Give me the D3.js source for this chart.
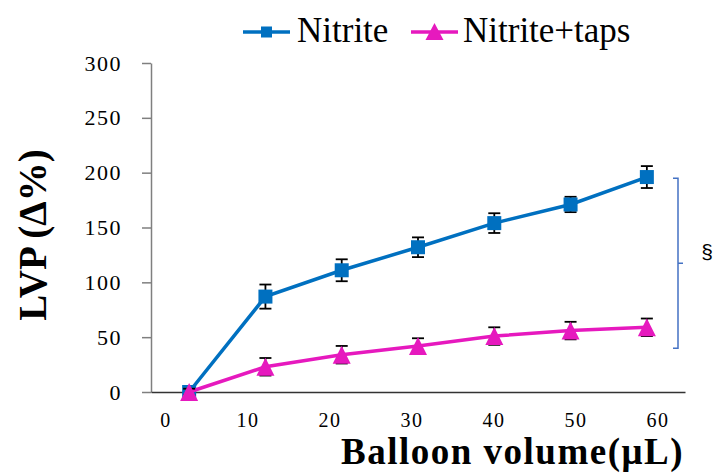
<!DOCTYPE html>
<html>
<head>
<meta charset="utf-8">
<script src="https://cdn.jsdelivr.net/npm/d3@7"></script>
<style>
  html, body { margin: 0; padding: 0; background: #fff; }
  svg { display: block; }
</style>
</head>
<body>
<svg id="chart" width="714" height="473"></svg>
<script>
// ---- data ----
const categories = ["0", "10", "20", "30", "40", "50", "60"];
const nitrite = [0, 87, 111, 132, 154, 171, 196];
const nitriteErr = [5, 11, 10, 9, 9, 7, 10];
const taps = [0, 23, 34, 42, 51, 56, 59];
const tapsErr = [3, 8, 8, 7, 8, 8, 8];
const yTicks = [0, 50, 100, 150, 200, 250, 300];
const xTickLabels = [0, 10, 20, 30, 40, 50, 60];
const seriesNames = ["Nitrite", "Nitrite+taps"];
const bracketRange = [40, 195];
const bracketMark = "§";

const blue = "#0070C0";
const magenta = "#E619BE";
const tickFont = "'Liberation Serif', 'Times New Roman', serif";

const svg = d3.select("#chart");

const x = d3.scaleBand().domain(categories).range([151, 685]).padding(0);
const y = d3.scaleLinear().domain([0, 300]).range([392, 63]);
const xLab = d3.scaleLinear().domain([0, 60]).range([165.5, 657.5]);
const cx = (i) => x(categories[i]) + x.bandwidth() / 2;

// ---- y axis ----
const yAxis = svg.append("g")
  .attr("transform", "translate(151,0)")
  .call(d3.axisLeft(y).tickValues(yTicks).tickSize(9).tickPadding(20).tickSizeOuter(0));
yAxis.attr("font-family", tickFont);
yAxis.select(".domain").attr("stroke", "#7f7f7f").attr("stroke-width", 1.5);
yAxis.selectAll(".tick line").attr("stroke", "#7f7f7f").attr("stroke-width", 1.5);
yAxis.selectAll(".tick text")
  .attr("font-family", tickFont)
  .attr("font-size", 22)
  .attr("letter-spacing", 1.5)
  .attr("fill", "#000");

// ---- x axis ----
const xAxis = svg.append("g")
  .attr("transform", "translate(0,392)")
  .call(d3.axisBottom(x).tickSize(0).tickFormat(""));
xAxis.select(".domain").attr("stroke", "#333").attr("stroke-width", 1.6);
xAxis.selectAll(".tick").remove();

const xLabAxis = svg.append("g")
  .attr("transform", "translate(0,413)")
  .call(d3.axisBottom(xLab).tickValues(xTickLabels).tickSize(0).tickPadding(0));
xLabAxis.attr("font-family", tickFont);
xLabAxis.select(".domain").remove();
xLabAxis.selectAll(".tick text")
  .attr("font-family", tickFont)
  .attr("font-size", 20)
  .attr("letter-spacing", 1.5)
  .attr("fill", "#000");

// ---- axis titles ----
svg.append("text")
  .attr("x", 341).attr("y", 464)
  .attr("font-family", "'Liberation Serif', serif")
  .attr("font-weight", "bold")
  .attr("font-size", 37)
  .attr("letter-spacing", 1.5)
  .attr("fill", "#000")
  .text("Balloon volume(μL)");

svg.append("text")
  .attr("transform", "translate(46,235) rotate(-90)")
  .attr("text-anchor", "middle")
  .attr("font-family", "'Liberation Serif', serif")
  .attr("font-weight", "bold")
  .attr("font-size", 39)
  .attr("fill", "#000")
  .text("LVP (Δ%)");

// ---- series ----
function drawSeries(vals, errs, color, marker) {
  const line = d3.line().x((d, i) => cx(i)).y(d => y(d));
  svg.append("path")
    .datum(vals)
    .attr("d", line)
    .attr("fill", "none")
    .attr("stroke", color)
    .attr("stroke-width", 3.5);

  const g = svg.append("g");
  vals.forEach((v, i) => {
    const px = cx(i);
    const e = errs[i];
    g.append("line").attr("x1", px).attr("x2", px).attr("y1", y(v + e)).attr("y2", y(v - e))
      .attr("stroke", "#000").attr("stroke-width", 1.8);
    [v + e, v - e].forEach(t => {
      g.append("line").attr("x1", px - 6).attr("x2", px + 6).attr("y1", y(t)).attr("y2", y(t))
        .attr("stroke", "#000").attr("stroke-width", 1.8);
    });
  });
  const m = svg.append("g");
  vals.forEach((v, i) => {
    const px = cx(i), py = y(v);
    if (marker === "square") {
      m.append("rect").attr("x", px - 7).attr("y", py - 7).attr("width", 14).attr("height", 14).attr("fill", color);
    } else {
      m.append("path").attr("d", `M${px},${py - 9} L${px + 9},${py + 9} L${px - 9},${py + 9} Z`).attr("fill", color);
    }
  });
}
drawSeries(nitrite, nitriteErr, blue, "square");
drawSeries(taps, tapsErr, magenta, "triangle");

// ---- bracket ----
const bx = 678;
const b0 = y(bracketRange[0]), b1 = y(bracketRange[1]);
svg.append("path")
  .attr("d", `M${bx - 5},${b1} H${bx} V${b0} H${bx - 5} M${bx},${(b0 + b1) / 2} H${bx + 5}`)
  .attr("fill", "none").attr("stroke", "#4472C4").attr("stroke-width", 1.5);
svg.append("text")
  .attr("x", 707).attr("y", (b0 + b1) / 2 - 4)
  .attr("text-anchor", "middle")
  .attr("font-family", "'Liberation Sans', sans-serif")
  .attr("font-size", 21)
  .attr("fill", "#000")
  .text(bracketMark);

// ---- legend ----
const legend = svg.append("g");
const legItems = [
  { name: seriesNames[0], color: blue, marker: "square", x0: 243, tx: 297 },
  { name: seriesNames[1], color: magenta, marker: "triangle", x0: 411, tx: 463 }
];
legItems.forEach(it => {
  legend.append("line").attr("x1", it.x0).attr("x2", it.x0 + 47).attr("y1", 32).attr("y2", 32)
    .attr("stroke", it.color).attr("stroke-width", 3.5);
  const mx = it.x0 + 23.5, my = 32;
  if (it.marker === "square") {
    legend.append("rect").attr("x", mx - 5.5).attr("y", my - 5.5).attr("width", 11).attr("height", 11).attr("fill", it.color);
  } else {
    legend.append("path").attr("d", `M${mx},${my - 9} L${mx + 9},${my + 8} L${mx - 9},${my + 8} Z`).attr("fill", it.color);
  }
  legend.append("text").attr("x", it.tx).attr("y", 42)
    .attr("font-family", "'Liberation Serif', serif")
    .attr("font-size", 35)
    .attr("fill", "#000")
    .text(it.name);
});
</script>
</body>
</html>
